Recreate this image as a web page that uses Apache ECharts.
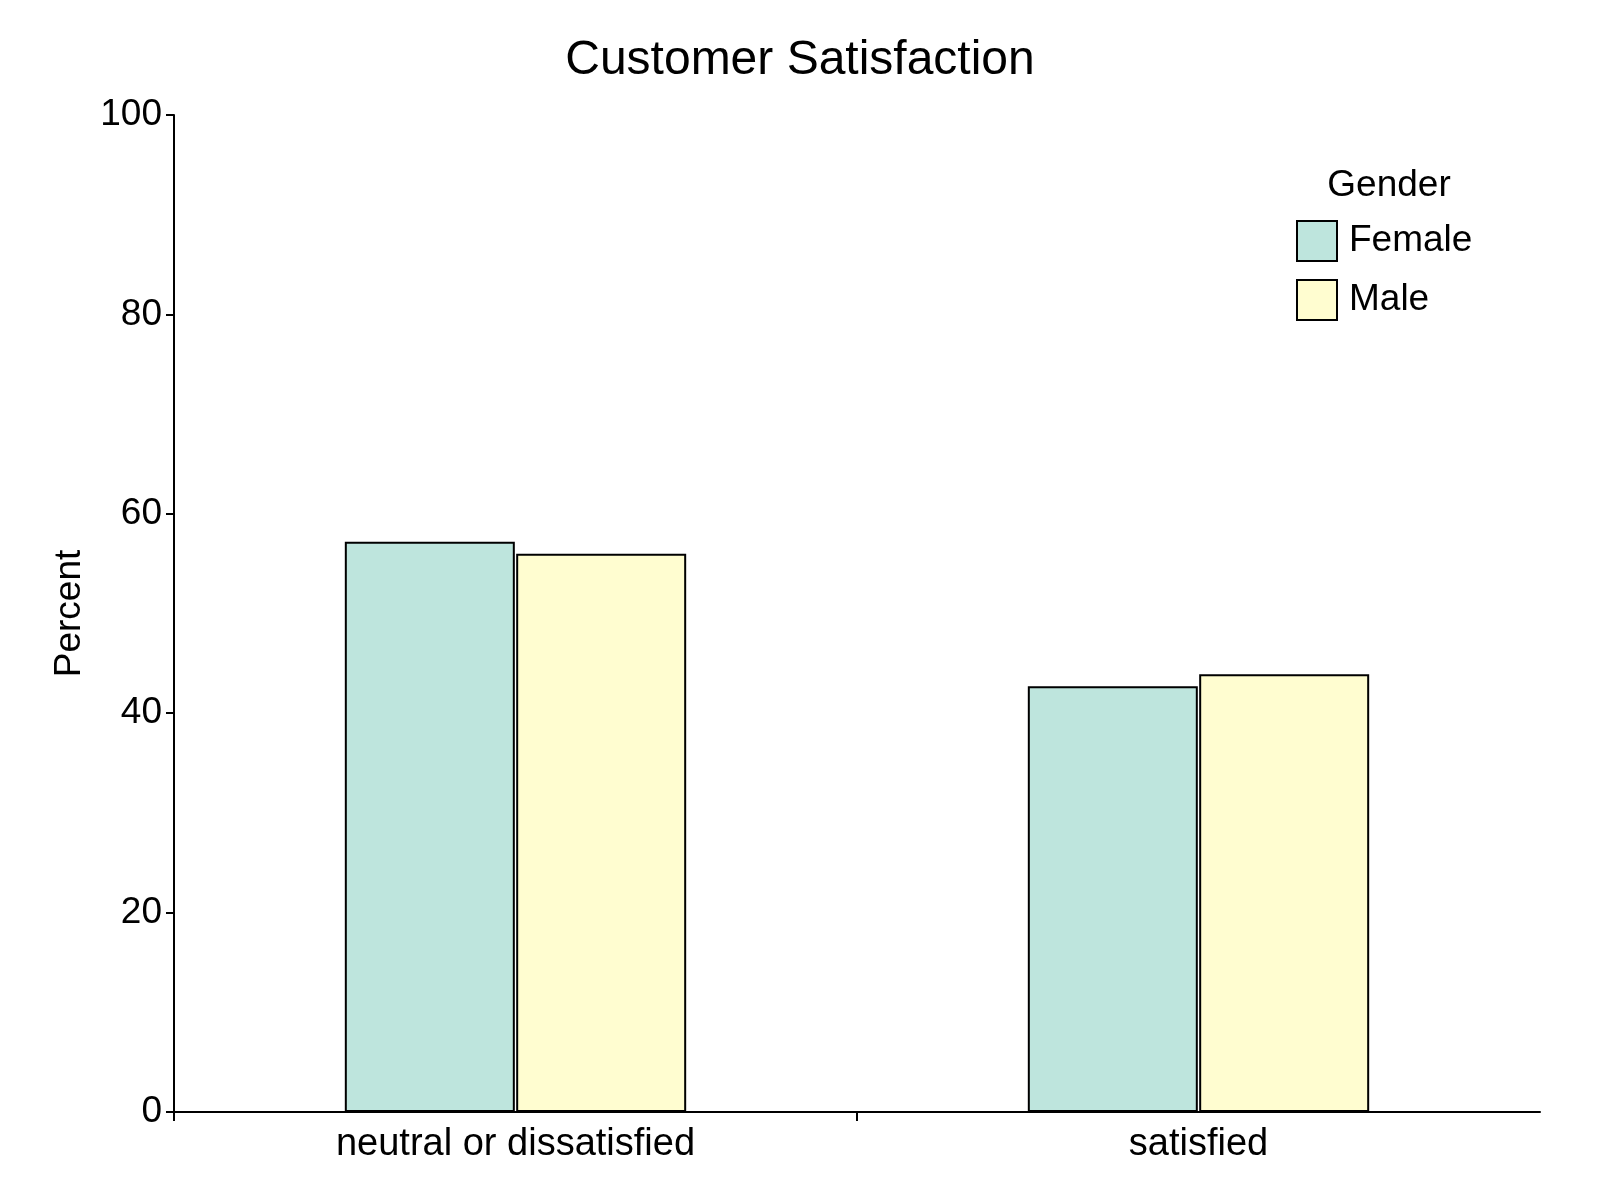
<!DOCTYPE html>
<html>
<head>
<meta charset="utf-8">
<title>Customer Satisfaction</title>
<script src="https://cdn.jsdelivr.net/npm/echarts@6/dist/echarts.min.js"></script>
<style>
  html, body { margin: 0; padding: 0; background: #fff; }
  #chart { width: 1600px; height: 1200px; }
</style>
</head>
<body>
<div id="chart"></div>
<script>
// data
const categories = ['neutral or dissatisfied', 'satisfied']
const femaleValues = [57.2, 42.7]
const maleValues = [56.0, 43.9]
const yTicks = [0, 20, 40, 60, 80, 100]

const font = 'Arial, "Liberation Sans", sans-serif'
const chart = echarts.init(document.getElementById('chart'))

const option = {
  backgroundColor: '#fff',
  textStyle: { fontFamily: font, color: '#000' },
  title: [
    {
      text: 'Customer Satisfaction',
      left: 'center',
      top: 37,
      padding: 0,
      textStyle: { fontSize: 48, fontWeight: 'normal', color: '#000', fontFamily: font }
    },
    {
      text: 'Gender',
      left: 1389,
      textAlign: 'center',
      top: 167,
      padding: 0,
      textStyle: { fontSize: 37, fontWeight: 'normal', color: '#000', fontFamily: font }
    }
  ],
  legend: {
    orient: 'vertical',
    left: 1296,
    top: 220,
    padding: 0,
    itemWidth: 40,
    itemHeight: 40,
    itemGap: 17,
    icon: 'rect',
    itemStyle: { borderColor: '#000', borderWidth: 2 },
    textStyle: { fontSize: 37, color: '#000', fontFamily: font, padding: [0, 0, 0, 7] },
    data: ['Female', 'Male']
  },
  grid: [
    { left: 174, right: 60, top: 115, bottom: 88 },
    // helper grid over the first category band: carries the x ticks at its two ends
    { left: 174, width: 683, top: 115, bottom: 88 }
  ],
  xAxis: [
    {
      type: 'category',
      gridIndex: 0,
      data: categories,
      axisLine: { lineStyle: { color: '#000', width: 2 } },
      axisTick: { show: false },
      axisLabel: { fontSize: 38, color: '#000', fontFamily: font, margin: 14 }
    },
    {
      type: 'value',
      gridIndex: 1,
      min: 0,
      max: 1,
      interval: 1,
      axisLine: { show: false },
      axisTick: { show: true, length: 9, lineStyle: { color: '#000', width: 2 } },
      axisLabel: { show: false },
      splitLine: { show: false }
    }
  ],
  yAxis: [
    {
      type: 'value',
      gridIndex: 0,
      min: yTicks[0],
      max: yTicks[yTicks.length - 1],
      interval: 20,
      name: 'Percent',
      nameLocation: 'middle',
      nameRotate: 90,
      nameGap: 86,
      nameTextStyle: { fontSize: 37, color: '#000', fontFamily: font },
      axisLine: { show: true, lineStyle: { color: '#000', width: 2 } },
      axisTick: { show: true, length: 8, lineStyle: { color: '#000', width: 2 } },
      axisLabel: { fontSize: 37, color: '#000', fontFamily: font, margin: 12 },
      splitLine: { show: false }
    },
    {
      type: 'value',
      gridIndex: 1,
      show: false
    }
  ],
  series: [
    {
      name: 'Female',
      type: 'bar',
      xAxisIndex: 0,
      yAxisIndex: 0,
      data: femaleValues,
      barWidth: 170,
      barGap: '0.8%',
      itemStyle: { color: '#bee5dd', borderColor: '#000', borderWidth: 2 }
    },
    {
      name: 'Male',
      type: 'bar',
      xAxisIndex: 0,
      yAxisIndex: 0,
      data: maleValues,
      barWidth: 170,
      barGap: '0.8%',
      itemStyle: { color: '#fffdd0', borderColor: '#000', borderWidth: 2 }
    }
  ]
}

chart.setOption(option)
</script>
</body>
</html>
